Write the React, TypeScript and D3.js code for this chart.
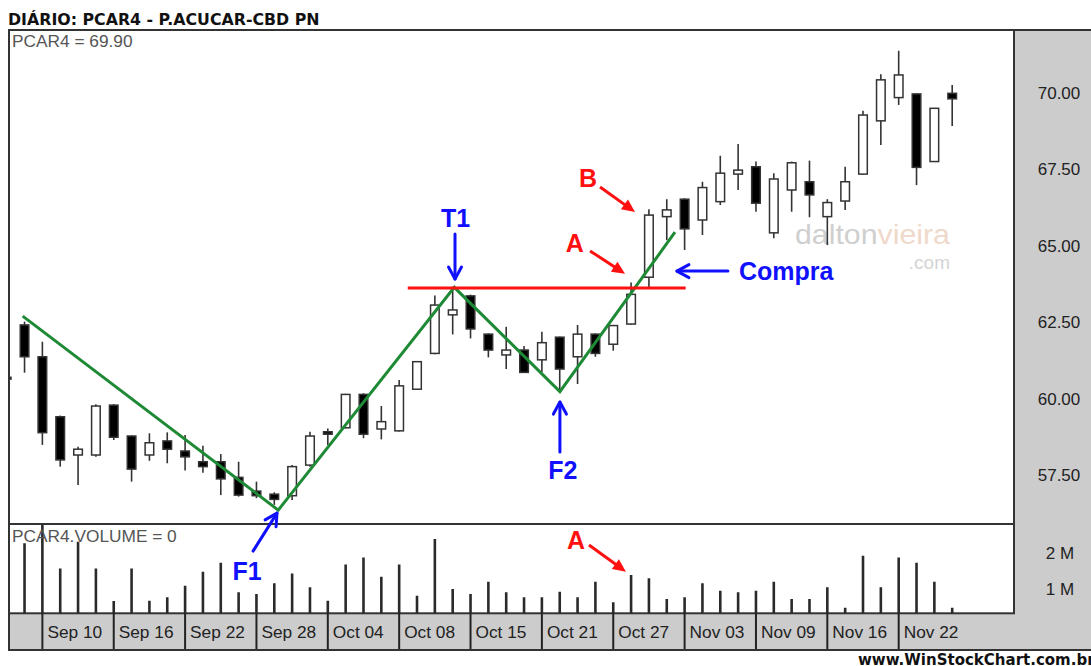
import React from "react";
import * as d3 from "d3";

const W = 1091;
const H = 666;

// ---- data ----
const dates = [
  "2010-09-08","2010-09-09","2010-09-10","2010-09-13","2010-09-14","2010-09-15","2010-09-16","2010-09-17",
  "2010-09-20","2010-09-21","2010-09-22","2010-09-23","2010-09-24","2010-09-27","2010-09-28","2010-09-29",
  "2010-09-30","2010-10-01","2010-10-04","2010-10-05","2010-10-06","2010-10-07","2010-10-08","2010-10-11",
  "2010-10-13","2010-10-14","2010-10-15","2010-10-18","2010-10-19","2010-10-20","2010-10-21","2010-10-22",
  "2010-10-25","2010-10-26","2010-10-27","2010-10-28","2010-10-29","2010-11-01","2010-11-03","2010-11-04",
  "2010-11-05","2010-11-08","2010-11-09","2010-11-10","2010-11-11","2010-11-12","2010-11-16","2010-11-17",
  "2010-11-18","2010-11-19","2010-11-22","2010-11-23","2010-11-24","2010-11-25"
];
const open = [60.70,62.41,61.37,59.41,58.16,58.16,59.79,58.78,58.16,58.62,58.29,57.94,57.94,57.43,56.98,56.88,
  56.83,57.83,58.92,59.05,60.14,59.01,58.95,60.31,61.48,62.74,63.36,62.11,61.43,61.59,61.27,62.01,
  61.37,62.11,61.78,62.44,63.97,65.95,66.52,65.84,66.44,67.34,67.58,65.42,66.82,67.09,65.95,66.46,
  67.34,69.08,69.84,69.96,67.75,69.98];
const high = [60.75,62.52,61.86,59.45,58.43,59.82,59.82,58.80,58.87,58.90,58.81,58.46,58.19,57.94,57.29,56.94,
  57.83,58.92,59.03,60.16,60.18,59.76,60.61,61.23,63.37,63.66,63.40,62.13,62.35,61.72,62.19,62.03,
  62.41,62.13,62.41,63.80,66.19,66.52,66.55,67.09,67.94,68.32,67.75,67.37,67.75,67.78,66.52,67.58,
  69.41,70.60,71.37,69.97,69.50,70.25];
const low = [60.60,60.85,58.49,57.78,57.18,58.10,58.65,57.29,57.97,57.89,57.65,57.58,56.85,56.80,56.75,56.53,
  56.69,57.78,58.49,59.03,58.71,58.67,58.93,60.29,61.45,62.10,61.97,61.35,60.97,60.84,60.87,60.23,
  60.48,61.37,61.57,62.42,63.63,65.18,64.86,65.35,66.33,66.82,66.11,65.24,66.11,65.93,65.02,66.17,
  67.33,68.29,69.60,66.98,67.74,68.91];
const close = [60.64,61.37,58.89,58.00,58.35,59.76,58.74,57.70,58.56,58.35,58.10,57.78,57.38,56.85,56.83,56.71,
  57.78,58.78,58.84,60.14,58.84,59.25,60.42,61.21,63.06,62.90,62.28,61.59,61.59,60.86,61.83,60.97,
  62.11,61.48,62.39,63.41,66.00,66.17,65.55,66.90,67.37,67.47,66.39,67.18,67.71,66.66,66.41,67.09,
  69.27,70.42,70.58,67.56,69.49,69.80];
// volume in millions
const volume = [1.5,2.28,3.1,1.58,2.32,1.58,0.675,1.58,0.68,0.78,1.10,1.49,1.74,0.92,0.87,1.17,
  1.44,1.06,0.68,1.69,1.88,1.35,1.69,0.82,2.40,1.01,0.87,1.21,0.92,0.78,0.78,0.93,
  0.78,1.21,0.64,1.40,1.31,0.73,0.78,1.17,0.96,0.92,0.96,1.21,0.73,0.73,1.06,0.49,
  1.93,1.06,1.88,1.74,1.21,0.49];

const priceTicks = [57.5, 60, 62.5, 65, 67.5, 70];
const volumeTicks = [1, 2];
const dateTickLabels = ["Sep 10","Sep 16","Sep 22","Sep 28","Oct 04","Oct 08","Oct 15","Oct 21","Oct 27","Nov 03","Nov 09","Nov 16","Nov 22"];

// annotations in (bar index, price) units
const trendPoints: [number, number][] = [[0.897, 62.70],[15.22, 56.36],[25.09, 63.64],[31.01, 60.23],[37.46, 65.44]];
const resistance = { from: 22.48, to: 38.06, price: 63.62 };

const title = "DIÁRIO: PCAR4 - P.ACUCAR-CBD PN";
const lastLabel = "PCAR4 = 69.90";
const volLabel = "PCAR4.VOLUME = 0";
const footer = "www.WinStockChart.com.br";

// ---- layout ----
const L = 9, R = 1014, PT = 30, PB = 524, VB = 613.3, SB = 650;

const parse = d3.timeParse("%Y-%m-%d");
const fmt = d3.timeFormat("%b %d");

function Arrow({ x1, y1, x2, y2, color, filled }: any) {
  const a = Math.atan2(y2 - y1, x2 - x1);
  const hl = filled ? 13 : 12;
  const hw = filled ? 6 : 6.5;
  const bx = x2 - hl * Math.cos(a), by = y2 - hl * Math.sin(a);
  const px = -Math.sin(a) * hw, py = Math.cos(a) * hw;
  if (filled) {
    const ex = x2 - (hl - 2) * Math.cos(a), ey = y2 - (hl - 2) * Math.sin(a);
    return (
      <g>
        <line x1={x1} y1={y1} x2={ex} y2={ey} stroke={color} strokeWidth={3} />
        <polygon points={`${x2},${y2} ${bx + px},${by + py} ${bx - px},${by - py}`} fill={color} />
      </g>
    );
  }
  return (
    <g fill="none" stroke={color} strokeWidth={3} strokeLinecap="round" strokeLinejoin="round">
      <line x1={x1} y1={y1} x2={x2} y2={y2} />
      <polyline points={`${bx + px},${by + py} ${x2},${y2} ${bx - px},${by - py}`} />
    </g>
  );
}

export default function App() {
  const x = d3.scaleLinear().domain([0, dates.length - 1]).range([6.7, 952.2]);
  const y = d3.scaleLinear().domain([57.5, 70]).range([475.2, 92.7]);
  const yv = d3.scaleLinear().domain([1, 2]).range([589.3, 553.3]);
  const bw = 8.6;

  const labels = dates.map((d) => fmt(parse(d) as Date));
  const tickIdx = dateTickLabels.map((t) => labels.indexOf(t));

  const trendLine = d3.line<[number, number]>().x((d) => x(d[0])).y((d) => y(d[1]))(trendPoints) as string;

  const lab = "'Liberation Sans', Arial, sans-serif";
  const blue = "#1010ff";
  const red = "#ff1010";

  return (
    <svg width={W} height={H} style={{ position: "absolute", left: 0, top: 0, background: "#fff" }}
      xmlns="http://www.w3.org/2000/svg">
      <defs>
        <clipPath id="cp"><rect x={L + 1} y={PT + 1} width={R - L - 2} height={PB - PT - 2} /></clipPath>
        <clipPath id="cv"><rect x={L + 1} y={PB + 1} width={R - L - 2} height={VB - PB - 1} /></clipPath>
      </defs>
      <rect x={0} y={0} width={W} height={H} fill="#fff" />
      <text x={8} y={25} fontFamily="'DejaVu Sans', Verdana, sans-serif" fontWeight="bold" fontSize={15.8} fill="#111">{title}</text>

      {/* gray frame */}
      <rect x={L} y={PT} width={W - L + 2} height={SB - PT} fill="#cccccc" stroke="#333" strokeWidth={2} />
      <rect x={L} y={PT} width={R - L} height={PB - PT} fill="#fff" stroke="#333" strokeWidth={2} />
      <rect x={L} y={PB} width={R - L} height={VB - PB} fill="#fff" stroke="#333" strokeWidth={2} />

      {/* watermark */}
      <text x={795} y={244} fontFamily={lab} fontSize={28} textLength={155} lengthAdjust="spacingAndGlyphs">
        <tspan fill="#cfcfcf">dalton</tspan><tspan fill="#efd9ca">vieira</tspan>
      </text>
      <text x={950} y={269} textAnchor="end" fontFamily={lab} fontSize={19} fill="#d4d4d4">.com</text>

      {/* candles */}
      <g clipPath="url(#cp)">
        {dates.map((d, i) => {
          const o = open[i], c = close[i];
          const up = c >= o;
          const yt = y(Math.max(o, c)), yb = y(Math.min(o, c));
          return (
            <g key={d}>
              <line x1={x(i)} x2={x(i)} y1={y(high[i])} y2={y(low[i])} stroke="#333" strokeWidth={1.6} />
              <rect x={x(i) - bw / 2} y={yt} width={bw} height={Math.max(1.5, yb - yt)}
                fill={up ? "#fff" : "#000"} stroke="#333" strokeWidth={1.5} />
            </g>
          );
        })}
        <path d={trendLine} fill="none" stroke="#1e8a35" strokeWidth={3} strokeLinejoin="miter" />
        <line x1={x(resistance.from)} x2={x(resistance.to)} y1={y(resistance.price)} y2={y(resistance.price)}
          stroke={red} strokeWidth={3} />
      </g>
      <text x={12} y={47} fontFamily={lab} fontSize={17.3} fill="#555">{lastLabel}</text>

      {/* volume */}
      <g clipPath="url(#cv)">
        {volume.map((v, i) => (
          <line key={i} x1={x(i)} x2={x(i)} y1={VB} y2={yv(v)} stroke="#2a2a2a" strokeWidth={2.6} />
        ))}
      </g>
      <text x={12} y={542} fontFamily={lab} fontSize={17.3} fill="#555">{volLabel}</text>

      {/* price axis labels */}
      {priceTicks.map((t) => (
        <text key={t} x={1059} y={y(t)} dy="0.36em" textAnchor="middle" fontFamily={lab} fontSize={17} fill="#222">
          {d3.format(".2f")(t)}
        </text>
      ))}
      {volumeTicks.map((t) => (
        <text key={t} x={1060} y={yv(t)} dy="0.36em" textAnchor="middle" fontFamily={lab} fontSize={17} fill="#222">
          {t} M
        </text>
      ))}

      {/* date axis */}
      {tickIdx.map((i, k) => (
        <g key={k}>
          <line x1={x(i)} x2={x(i)} y1={VB} y2={SB} stroke="#222" strokeWidth={2} />
          <text x={x(i) + 5} y={638} fontFamily={lab} fontSize={17.3} fill="#222">{dateTickLabels[k]}</text>
        </g>
      ))}
      <line x1={L} x2={W} y1={SB} y2={SB} stroke="#333" strokeWidth={2} />

      {/* annotations */}
      <g fontFamily={lab} fontWeight="bold" fontSize={25}>
        <text x={x(25.16)} y={y(65.9)} dy="0.36em" textAnchor="middle" fill={blue}>T1</text>
        <Arrow x1={x(25.13)} y1={y(65.38)} x2={x(25.13)} y2={y(63.91)} color={blue} />
        <text x={x(31.18)} y={y(57.67)} dy="0.36em" textAnchor="middle" fill={blue}>F2</text>
        <Arrow x1={x(31.01)} y1={y(58.26)} x2={x(31.01)} y2={y(59.89)} color={blue} />
        <text x={x(13.47)} y={y(54.37)} dy="0.36em" textAnchor="middle" fill={blue}>F1</text>
        <Arrow x1={x(13.81)} y1={y(55.02)} x2={x(15.15)} y2={y(56.26)} color={blue} />
        <text x={x(41.05)} y={y(64.17)} dy="0.36em" fill={blue}>Compra</text>
        <Arrow x1={x(40.43)} y1={y(64.17)} x2={x(37.57)} y2={y(64.17)} color={blue} />

        <text x={x(32.58)} y={y(67.21)} dy="0.36em" textAnchor="middle" fill={red}>B</text>
        <Arrow x1={x(33.26)} y1={y(66.92)} x2={x(35.22)} y2={y(66.10)} color={red} filled />
        <text x={x(31.85)} y={y(65.09)} dy="0.36em" textAnchor="middle" fill={red}>A</text>
        <Arrow x1={x(32.7)} y1={y(64.83)} x2={x(34.66)} y2={y(64.08)} color={red} filled />
        <text x={x(31.91)} y={yv(2.37)} dy="0.36em" textAnchor="middle" fill={red}>A</text>
        <Arrow x1={x(32.64)} y1={yv(2.23)} x2={x(34.71)} y2={yv(1.49)} color={red} filled />
      </g>

      <text x={858} y={665} fontFamily="'DejaVu Sans', Verdana, sans-serif" fontWeight="bold" fontSize={15} fill="#111">{footer}</text>
    </svg>
  );
}
